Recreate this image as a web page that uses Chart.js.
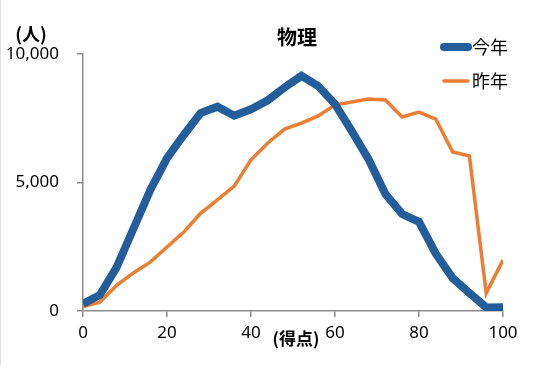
<!DOCTYPE html>
<html>
<head>
<meta charset="utf-8">
<script src="https://cdn.jsdelivr.net/npm/chart.js@4"></script>
<style>
html,body{margin:0;padding:0;background:#fff;}
#wrap{width:535px;height:375px;position:relative;}
</style>
</head>
<body>
<div id="wrap"><canvas id="physChart" width="535" height="375"></canvas></div>
<script>
const scores = [0,4,8,12,16,20,24,28,32,36,40,44,48,52,56,60,64,68,72,76,80,84,88,92,96,100];

const thisYear = [280,620,1700,3200,4700,5950,6850,7700,7950,7600,7850,8200,8700,9150,8750,8050,7000,5900,4550,3770,3470,2230,1280,700,140,150];

const lastYear = [170,340,1000,1480,1900,2490,3070,3800,4320,4860,5880,6540,7080,7310,7590,8020,8130,8250,8210,7550,7740,7470,6190,6030,700,1980];

const seriesNames = ["今年","昨年"];
const xTicks = [0,20,40,60,80,100];
const yTicks = [0,5000,10000];

const blue = "#235E9A";
const orange = "#ED7D31";
const jpFont = "'Noto Sans CJK JP', 'Noto Sans', sans-serif";

const toPoints = (vals) => vals.map((v,i) => ({x:scores[i], y:v}));

const extras = {
    id:"extras",
    afterDraw(chart){
        const c = chart.ctx;
        c.save();
        // faint frame line on the left
        c.strokeStyle = "#e2e2e2";
        c.lineWidth = 1;
        c.beginPath();
        c.moveTo(0.5,0);
        c.lineTo(0.5,365);
        c.stroke();

        c.fillStyle = "#000";
        c.textBaseline = "middle";
        c.textAlign = "center";
        c.font = "bold 20px " + jpFont;
        c.fillText("物理", 297, 37);

        c.font = "bold 18px " + jpFont;
        c.fillText("(人)", 31, 34);
        c.font = "bold 17px " + jpFont;
        c.fillText("(得点)", 296, 339);

        // legend
        const ds = chart.data.datasets;
        const rows = [47, 81];
        c.lineCap = "round";
        ds.forEach((d,i) => {
            c.strokeStyle = d.borderColor;
            c.lineWidth = d.borderWidth;
            c.beginPath();
            c.moveTo(444, rows[i]);
            c.lineTo(468, rows[i]);
            c.stroke();
            c.fillStyle = "#000";
            c.textAlign = "left";
            c.font = "18px " + jpFont;
            c.fillText(d.label, 472, rows[i]);
        });
        c.restore();
    }
};

new Chart(document.getElementById("physChart"), {
    type:"line",
    data:{
        datasets:[
            {
                label:seriesNames[0],
                data:toPoints(thisYear),
                borderColor:blue,
                borderWidth:8,
                pointRadius:0,
                fill:false,
                tension:0
            },
            {
                label:seriesNames[1],
                data:toPoints(lastYear),
                borderColor:orange,
                borderWidth:3.5,
                pointRadius:0,
                fill:false,
                tension:0
            }
        ]
    },
    options:{
        responsive:false,
        animation:false,
        layout:{
            padding:{top:54, right:32, left:0, bottom:0}
        },
        plugins:{
            legend:{display:false},
            title:{display:false},
            tooltip:{enabled:false}
        },
        scales:{
            x:{
                type:"linear",
                min:0,
                max:100,
                afterBuildTicks:(s) => { s.ticks = xTicks.map(v => ({value:v})); },
                afterFit:(s) => { s.height = 64; },
                border:{color:"#8c8c8c", width:1.5},
                grid:{drawOnChartArea:false, drawTicks:true, tickLength:6, color:"#8c8c8c", lineWidth:1.5},
                ticks:{
                    color:"#000",
                    padding:6,
                    maxRotation:0,
                    font:{family:"'Noto Sans', sans-serif", size:17}
                }
            },
            y:{
                min:0,
                max:10000,
                afterBuildTicks:(s) => { s.ticks = yTicks.map(v => ({value:v})); },
                afterFit:(s) => { s.width = 83; },
                border:{color:"#8c8c8c", width:1.5},
                grid:{drawOnChartArea:false, drawTicks:true, tickLength:6, color:"#8c8c8c", lineWidth:1.5},
                ticks:{
                    color:"#000",
                    padding:18,
                    font:{family:"'Noto Sans', sans-serif", size:17},
                    callback:(v) => v.toLocaleString("en-US")
                }
            }
        }
    },
    plugins:[extras]
});
</script>
</body>
</html>
